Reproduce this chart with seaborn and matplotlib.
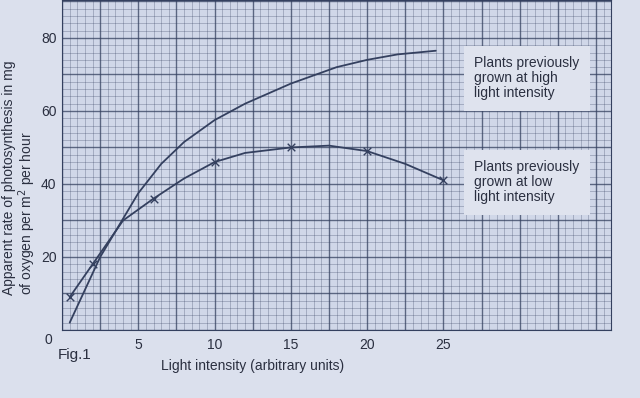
import matplotlib
matplotlib.use("Agg")
import matplotlib.pyplot as plt
from matplotlib.ticker import MultipleLocator, FuncFormatter
import seaborn as sns

# ---- data ----
# plants previously grown at high light intensity (smooth curve, no markers)
high_x = [0.5, 2.5, 4, 5, 6.5, 8, 10, 12, 15, 18, 20, 22, 24.5]
high_y = [2, 20, 30.5, 37.5, 45.5, 51.5, 57.5, 62, 67.5, 72, 74, 75.5, 76.5]

# plants previously grown at low light intensity (curve path)
low_x = [0.5, 2, 4, 6, 8, 10, 12, 15, 17.5, 20, 22.5, 25]
low_y = [9, 18, 30, 36, 41.5, 46, 48.5, 50, 50.5, 49, 45.5, 41]

# plotted points (crosses) on the low light curve
low_pts_x = [0.5, 2, 6, 10, 15, 20, 25]
low_pts_y = [9, 18, 36, 46, 50, 49, 41]

x_labels = [5, 10, 15, 20, 25]
y_labels = [20, 40, 60, 80]

ink = "#34405f"
paper = "#d0d7e8"
page = "#dbe0ed"
text_col = "#2a2f40"

sns.set_style("white")
plt.rcParams["font.family"] = ["Liberation Sans", "DejaVu Sans"]

fig = plt.figure(figsize=(6.4, 3.98), dpi=100, facecolor=page)
ax = fig.add_axes([0.097, 0.171, 0.858, 0.829])
ax.set_facecolor(paper)

# graph paper grid
ax.xaxis.set_major_locator(MultipleLocator(2.5))
ax.xaxis.set_minor_locator(MultipleLocator(0.5))
ax.yaxis.set_major_locator(MultipleLocator(10))
ax.yaxis.set_minor_locator(MultipleLocator(2))
ax.grid(which="major", color=ink, lw=1.0, alpha=0.75)
ax.grid(which="minor", color=ink, lw=0.45, alpha=0.45)
ax.set_axisbelow(True)

ax.xaxis.set_major_formatter(FuncFormatter(
    lambda v, p: f"{v:g}" if round(v, 3) in x_labels else ""))
ax.yaxis.set_major_formatter(FuncFormatter(
    lambda v, p: f"{v:g}" if round(v, 3) in y_labels else ""))
ax.tick_params(which="both", length=0, labelsize=10, colors=text_col)
ax.tick_params(axis="x", pad=6)
ax.tick_params(axis="y", pad=4)

for s in ax.spines.values():
    s.set_color(ink)
    s.set_linewidth(0.8)

# curves
sns.lineplot(x=high_x, y=high_y, ax=ax, color=ink, lw=1.3, sort=False)
sns.lineplot(x=low_x, y=low_y, ax=ax, color=ink, lw=1.3, sort=False)
sns.scatterplot(x=low_pts_x, y=low_pts_y, ax=ax, marker="x", color=ink,
                s=30, linewidth=1.0, zorder=5)

ax.set_xlim(0, 36)
ax.set_ylim(0, 90.4)
ax.set_xlabel("")
ax.set_ylabel("")

# labels beside the curves
box = dict(boxstyle="square,pad=0.75", fc="#dfe3ee", ec="none")
ax.text(27.0, 75.0, "Plants previously\ngrown at high\nlight intensity",
        fontsize=10, color=text_col, va="top", ha="left", bbox=box,
        linespacing=1.1)
ax.text(27.0, 46.5, "Plants previously\ngrown at low\nlight intensity",
        fontsize=10, color=text_col, va="top", ha="left", bbox=box,
        linespacing=1.1)

# corner zero, axis titles, figure number
fig.text(0.075, 0.145, "0", fontsize=10, color=text_col, ha="center", va="center")
fig.text(0.394, 0.08, "Light intensity (arbitrary units)", fontsize=10,
         color=text_col, ha="center", va="center")
fig.text(0.117, 0.108, "Fig.1", fontsize=11, color=text_col,
         ha="center", va="center")
fig.text(0.031, 0.26,
         "Apparent rate of photosynthesis in mg\nof oxygen per m$^2$ per hour",
         fontsize=10, color=text_col, rotation=90, ha="center", va="bottom",
         multialignment="left", linespacing=1.0)

fig.savefig("out.png", dpi=100, facecolor=page)
